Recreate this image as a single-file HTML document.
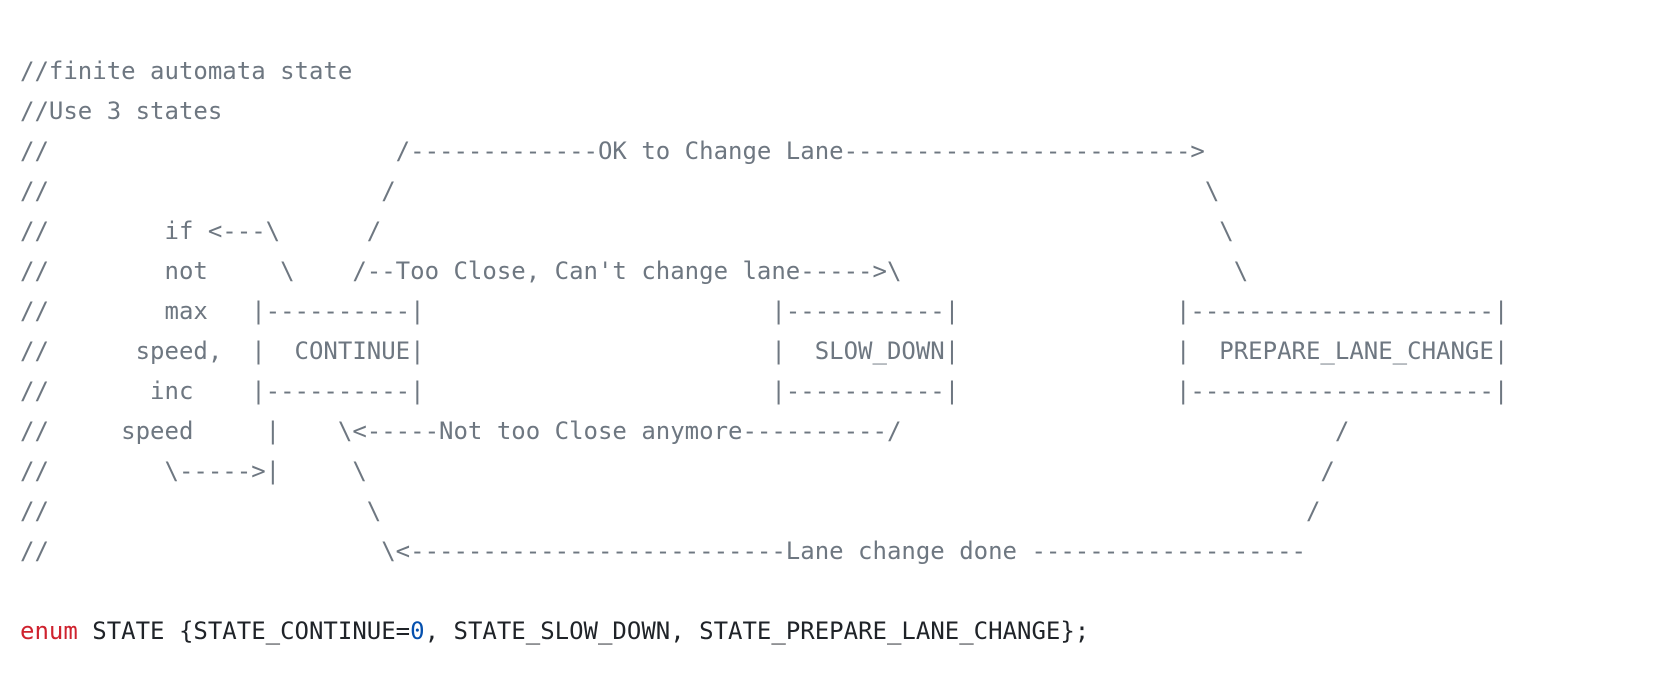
<!DOCTYPE html>
<html><head><meta charset="utf-8"><style>
html,body{margin:0;padding:0;background:#fff;width:1672px;height:678px;overflow:hidden}
pre{position:absolute;left:20px;top:51px;margin:0;font-family:"DejaVu Sans Mono","Liberation Mono",monospace;font-size:24px;line-height:40px;color:#6e7781;white-space:pre}
.k{color:#cf222e}.t{color:#1f2328}.n{color:#0550ae}
</style></head><body>
<pre>//finite automata state
//Use 3 states
//                        /-------------OK to Change Lane------------------------&gt;
//                       /                                                        \
//        if &lt;---\      /                                                          \
//        not     \    /--Too Close, Can't change lane-----&gt;\                       \
//        max   |----------|                        |-----------|               |---------------------|
//      speed,  |  CONTINUE|                        |  SLOW_DOWN|               |  PREPARE_LANE_CHANGE|
//       inc    |----------|                        |-----------|               |---------------------|
//     speed     |    \&lt;-----Not too Close anymore----------/                              /
//        \-----&gt;|     \                                                                  /
//                      \                                                                /
//                       \&lt;--------------------------Lane change done -------------------

<span class="k">enum</span><span class="t"> STATE {STATE_CONTINUE=</span><span class="n">0</span><span class="t">, STATE_SLOW_DOWN, STATE_PREPARE_LANE_CHANGE};</span></pre>
</body></html>
